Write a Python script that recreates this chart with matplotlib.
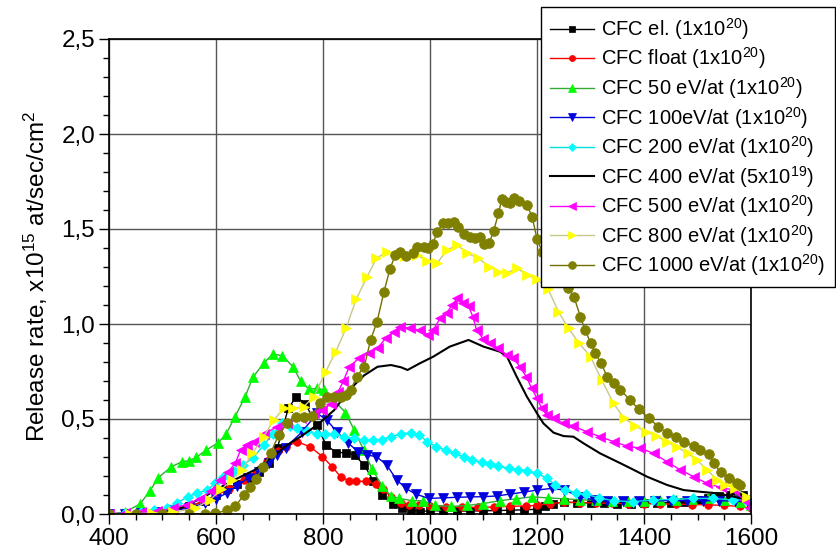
import matplotlib
matplotlib.use("Agg")
import matplotlib.pyplot as plt
from matplotlib.ticker import MultipleLocator, FuncFormatter

plt.rcParams['font.family'] = ['Liberation Sans', 'DejaVu Sans']
plt.rcParams['mathtext.fontset'] = 'custom'
plt.rcParams['mathtext.rm'] = 'Liberation Sans'
plt.rcParams['mathtext.it'] = 'Liberation Sans:italic'
plt.rcParams['mathtext.bf'] = 'Liberation Sans:bold'

# ---- data (temperature, release rate x1e15 at/sec/cm2) ----
el_x = [400, 430, 460, 490, 520, 550, 580, 600, 620, 640, 660, 680, 700, 715, 735, 750, 767, 788, 806, 825, 843,
        859, 877, 894, 911, 930, 947, 965, 982, 1000, 1025, 1050, 1075, 1100, 1125, 1150, 1175, 1200, 1215, 1230,
        1250, 1275, 1300, 1325, 1350, 1375, 1400, 1425, 1450, 1475, 1500, 1520, 1540, 1560, 1585, 1600]
el_y = [0.0, 0.0, 0.005, 0.01, 0.02, 0.04, 0.07, 0.1, 0.13, 0.16, 0.19, 0.22, 0.27, 0.35, 0.556, 0.617, 0.58,
        0.468, 0.363, 0.323, 0.323, 0.31, 0.258, 0.175, 0.1, 0.053, 0.03, 0.021, 0.012, 0.018, 0.016, 0.015, 0.016,
        0.017, 0.018, 0.02, 0.022, 0.025, 0.04, 0.055, 0.062, 0.06, 0.058, 0.056, 0.055, 0.055, 0.056, 0.058, 0.06,
        0.065, 0.075, 0.085, 0.095, 0.1, 0.1, 0.06]

float_x = [400, 430, 460, 490, 520, 550, 580, 600, 625, 653, 674, 696, 715, 730, 752, 776, 799, 817, 833, 848, 861,
           881, 899, 913, 927, 945, 960, 980, 1000, 1030, 1060, 1090, 1120, 1150, 1180, 1200, 1225, 1250, 1280, 1310,
           1340, 1370, 1400, 1430, 1460, 1490, 1520, 1550, 1580, 1600]
float_y = [0.0, 0.0, 0.005, 0.01, 0.02, 0.04, 0.07, 0.1, 0.13, 0.179, 0.218, 0.28, 0.33, 0.354, 0.38, 0.354, 0.302,
           0.249, 0.196, 0.175, 0.172, 0.172, 0.156, 0.13, 0.09, 0.06, 0.05, 0.045, 0.04, 0.038, 0.036, 0.035, 0.037,
           0.04, 0.043, 0.045, 0.055, 0.062, 0.06, 0.058, 0.056, 0.055, 0.054, 0.053, 0.052, 0.05, 0.048, 0.045, 0.04,
           0.03]

e50_x = [400, 430, 458, 477, 492, 516, 536, 549, 563, 582, 604, 619, 635, 654, 669, 689, 706, 724, 744, 758, 774,
         789, 802, 842, 858, 876, 892, 911, 927, 942, 967, 986, 1010, 1040, 1070, 1100, 1130, 1160, 1190, 1220, 1250,
         1280, 1310, 1340, 1370, 1400, 1430, 1460, 1490, 1520, 1550, 1580, 1600]
e50_y = [0.0, 0.01, 0.053, 0.123, 0.191, 0.247, 0.275, 0.28, 0.298, 0.337, 0.375, 0.42, 0.51, 0.614, 0.72, 0.793,
         0.842, 0.833, 0.775, 0.70, 0.656, 0.662, 0.653, 0.534, 0.444, 0.337, 0.235, 0.147, 0.095, 0.082, 0.07, 0.07,
         0.045, 0.04, 0.045, 0.055, 0.07, 0.08, 0.09, 0.085, 0.08, 0.075, 0.072, 0.07, 0.07, 0.07, 0.072, 0.075,
         0.08, 0.082, 0.075, 0.065, 0.05]

e100_x = [400, 430, 460, 490, 520, 550, 580, 600, 620, 640, 660, 680, 700, 714, 730, 760, 789, 807, 826, 846, 866,
          883, 900, 919, 938, 955, 973, 998, 1025, 1051, 1075, 1100, 1125, 1150, 1175, 1200, 1228, 1250, 1281, 1306,
          1330, 1360, 1390, 1420, 1450, 1480, 1510, 1540, 1570, 1600]
e100_y = [0.0, 0.0, 0.005, 0.01, 0.02, 0.03, 0.06, 0.08, 0.11, 0.15, 0.19, 0.22, 0.27, 0.31, 0.35, 0.43, 0.53,
          0.495, 0.433, 0.375, 0.328, 0.31, 0.302, 0.258, 0.179, 0.135, 0.105, 0.082, 0.085, 0.088, 0.09, 0.091,
          0.095, 0.105, 0.115, 0.126, 0.135, 0.126, 0.091, 0.074, 0.07, 0.068, 0.068, 0.07, 0.07, 0.07, 0.07, 0.07,
          0.068, 0.06]

e200_x = [400, 430, 460, 485, 508, 528, 547, 565, 583, 599, 614, 633, 651, 669, 689, 706, 724, 738, 752, 770, 788,
          804, 820, 839, 858, 876, 894, 911, 927, 945, 964, 980, 995, 1011, 1029, 1046, 1063, 1079, 1097, 1113, 1128,
          1147, 1164, 1181, 1200, 1219, 1234, 1253, 1272, 1291, 1315, 1343, 1380, 1417, 1455, 1492, 1529, 1566, 1591]
e200_y = [0.0, 0.005, 0.01, 0.02, 0.03, 0.06, 0.09, 0.11, 0.126, 0.161, 0.196, 0.228, 0.26, 0.293, 0.363, 0.42,
          0.477, 0.465, 0.451, 0.435, 0.421, 0.421, 0.421, 0.407, 0.398, 0.389, 0.389, 0.389, 0.407, 0.421, 0.428,
          0.416, 0.381, 0.354, 0.337, 0.319, 0.302, 0.284, 0.272, 0.263, 0.253, 0.24, 0.234, 0.228, 0.214, 0.188,
          0.153, 0.126, 0.112, 0.105, 0.085, 0.07, 0.065, 0.074, 0.077, 0.082, 0.082, 0.074, 0.074]

e400_x = [400, 450, 496, 533, 571, 608, 646, 671, 696, 733, 758, 789, 821, 849, 877, 902, 927, 946, 958, 981, 1006,
          1037, 1072, 1100, 1131, 1144, 1162, 1181, 1200, 1212, 1231, 1250, 1268, 1287, 1318, 1356, 1381, 1406, 1443,
          1474, 1505, 1537, 1568, 1593]
e400_y = [0.0, 0.0, 0.005, 0.03, 0.08, 0.14, 0.196, 0.23, 0.28, 0.363, 0.407, 0.468, 0.547, 0.653, 0.73, 0.775,
          0.784, 0.772, 0.758, 0.793, 0.828, 0.881, 0.916, 0.881, 0.854, 0.828, 0.723, 0.618, 0.53, 0.477, 0.428,
          0.41, 0.407, 0.372, 0.319, 0.267, 0.232, 0.196, 0.153, 0.126, 0.117, 0.109, 0.091, 0.074]

e500_x = [400, 430, 460, 490, 520, 545, 571, 590, 608, 622, 636, 646, 658, 671, 690, 714, 733, 758, 783, 799, 815,
          828, 838, 849, 867, 886, 902, 917, 933, 944, 963, 981, 997, 1006, 1019, 1031, 1041, 1051, 1062, 1072, 1080,
          1087, 1100, 1112, 1128, 1144, 1156, 1168, 1180, 1190, 1200, 1209, 1218, 1231, 1250, 1268, 1293, 1318, 1343,
          1368, 1393, 1418, 1443, 1468, 1493, 1518, 1543, 1568, 1587, 1599]
e500_y = [0.0, 0.005, 0.01, 0.015, 0.03, 0.05, 0.08, 0.12, 0.179, 0.22, 0.267, 0.337, 0.363, 0.381, 0.42, 0.46,
          0.481, 0.505, 0.53, 0.547, 0.58, 0.64, 0.7, 0.775, 0.819, 0.846, 0.872, 0.925, 0.96, 0.986, 0.977, 0.968,
          0.942, 0.968, 1.03, 1.056, 1.1, 1.135, 1.109, 1.095, 1.039, 0.968, 0.919, 0.898, 0.872, 0.837, 0.819, 0.775,
          0.723, 0.661, 0.609, 0.556, 0.521, 0.504, 0.477, 0.463, 0.433, 0.407, 0.381, 0.358, 0.346, 0.319, 0.275,
          0.232, 0.196, 0.161, 0.14, 0.126, 0.074, 0.03]

e800_x = [400, 440, 480, 520, 560, 589, 610, 630, 649, 668, 689, 708, 727, 743, 764, 783, 805, 824, 843, 862, 882,
          900, 920, 953, 976, 994, 1014, 1032, 1051, 1070, 1090, 1111, 1128, 1144, 1163, 1182, 1200, 1221, 1240, 1259,
          1278, 1300, 1321, 1343, 1363, 1384, 1404, 1423, 1443, 1462, 1482, 1499, 1518, 1537, 1552, 1571, 1593]
e800_y = [0.0, 0.0, 0.005, 0.01, 0.03, 0.074, 0.13, 0.179, 0.232, 0.319, 0.407, 0.495, 0.556, 0.556, 0.565, 0.618,
          0.749, 0.854, 0.977, 1.13, 1.246, 1.346, 1.381, 1.358, 1.363, 1.333, 1.323, 1.389, 1.416, 1.372, 1.346,
          1.302, 1.275, 1.27, 1.293, 1.258, 1.235, 1.182, 1.065, 0.977, 0.902, 0.828, 0.705, 0.582, 0.504, 0.463,
          0.433, 0.41, 0.381, 0.351, 0.319, 0.284, 0.232, 0.179, 0.153, 0.135, 0.091]

e1000_x = [400, 450, 500, 550, 580, 599, 621, 636, 652, 663, 674, 688, 702, 717, 733, 749, 764, 780, 794, 808, 821,
           833, 843, 852, 863, 877, 889, 901, 914, 925, 935, 944, 956, 968, 976, 988, 996, 1005, 1014, 1025, 1034,
           1044, 1053, 1063, 1074, 1084, 1093, 1101, 1111, 1119, 1128, 1134, 1142, 1150, 1157, 1167, 1181, 1191,
           1200, 1210, 1222, 1234, 1246, 1258, 1269, 1281, 1290, 1300, 1309, 1320, 1331, 1343, 1356, 1374, 1390,
           1409, 1427, 1443, 1459, 1474, 1493, 1505, 1521, 1530, 1543, 1559, 1574, 1580]
e1000_y = [0.0, 0.0, 0.0, 0.0, 0.002, 0.004, 0.02, 0.04, 0.1, 0.14, 0.182, 0.25, 0.319, 0.416, 0.477, 0.512, 0.512,
           0.516, 0.586, 0.618, 0.618, 0.618, 0.625, 0.653, 0.723, 0.775, 0.916, 1.012, 1.17, 1.288, 1.363, 1.381,
           1.358, 1.372, 1.407, 1.404, 1.398, 1.421, 1.486, 1.533, 1.53, 1.539, 1.512, 1.474, 1.456, 1.451, 1.456,
           1.421, 1.428, 1.491, 1.582, 1.656, 1.644, 1.635, 1.661, 1.649, 1.626, 1.565, 1.446, 1.38, 1.32, 1.27,
           1.22, 1.188, 1.144, 1.039, 0.968, 0.902, 0.846, 0.793, 0.723, 0.688, 0.653, 0.6, 0.551, 0.504, 0.46, 0.425,
           0.407, 0.381, 0.358, 0.337, 0.316, 0.267, 0.223, 0.188, 0.161, 0.153]

labels = ["CFC el. (1x10$^{20}$)", "CFC float (1x10$^{20}$)", "CFC 50 eV/at (1x10$^{20}$)",
          "CFC 100eV/at (1x10$^{20}$)", "CFC 200 eV/at (1x10$^{20}$)", "CFC 400 eV/at (5x10$^{19}$)",
          "CFC 500 eV/at (1x10$^{20}$)", "CFC 800 eV/at (1x10$^{20}$)", "CFC 1000 eV/at (1x10$^{20}$)"]

series = [
    (el_x, el_y, '#000000', '#000000', 's', 5.5),
    (float_x, float_y, '#ff0000', '#ff0000', 'o', 5.5),
    (e50_x, e50_y, '#00ff00', '#33aa33', '^', 7),
    (e100_x, e100_y, '#0000dd', '#0000dd', 'v', 7),
    (e200_x, e200_y, '#00ffff', '#00dddd', 'D', 5.5),
    (e400_x, e400_y, '#000000', '#000000', None, 0),
    (e500_x, e500_y, '#ff00ff', '#ff00ff', '<', 7),
    (e800_x, e800_y, '#ffff00', '#c8c888', '>', 7),
    (e1000_x, e1000_y, '#808000', '#707000', 'o', 7),
]

fig = plt.figure(figsize=(8.36, 5.55), dpi=100)
ax = fig.add_axes([109 / 836, 1 - 514 / 555, (751 - 109) / 836, (514 - 39) / 555])

for (xs, ys, mc, lc, mk, ms), lab in zip(series, labels):
    if mk is None:
        ax.plot(xs, ys, color=lc, lw=1.5, label=lab, zorder=3)
    else:
        ax.plot(xs, ys, color=lc, lw=1.0, marker=mk, markersize=ms, markerfacecolor=mc,
                markeredgecolor=mc, markeredgewidth=0.5, label=lab, zorder=3)

ax.set_xlim(400, 1600)
ax.set_ylim(0, 2.5)
ax.xaxis.set_major_locator(MultipleLocator(200))
ax.xaxis.set_minor_locator(MultipleLocator(50))
ax.yaxis.set_major_locator(MultipleLocator(0.5))
ax.yaxis.set_minor_locator(MultipleLocator(0.1))
ax.yaxis.set_major_formatter(FuncFormatter(lambda v, p: f"{v:.1f}".replace('.', ',')))
ax.xaxis.set_major_formatter(FuncFormatter(lambda v, p: f"{int(v)}"))
ax.tick_params(axis='both', which='major', direction='out', length=7, width=1, labelsize=17.5, pad=3)
ax.tick_params(axis='both', which='minor', direction='out', length=4, width=1)
ax.tick_params(top=False, right=False)
ax.grid(True, which='major', color='#555555', lw=1.0, zorder=0)
for sp in ax.spines.values():
    sp.set_linewidth(1.2)
    sp.set_zorder(4)

ax.set_ylabel("Release rate, x10$^{15}$ at/sec/cm$^2$", fontsize=17.5, labelpad=8)

leg = ax.legend(loc='upper left', bbox_to_anchor=(541 / 836, 1 - 7 / 555), bbox_transform=fig.transFigure,
                fontsize=14.5, frameon=True, fancybox=False, framealpha=1, edgecolor='black',
                labelspacing=0.18, handlelength=2.2, handletextpad=0.35, borderpad=0.45, borderaxespad=0,
                numpoints=1, markerscale=0.8)
leg.get_frame().set_linewidth(1.0)
leg.set_zorder(10)

fig.savefig("out.png", dpi=100)
